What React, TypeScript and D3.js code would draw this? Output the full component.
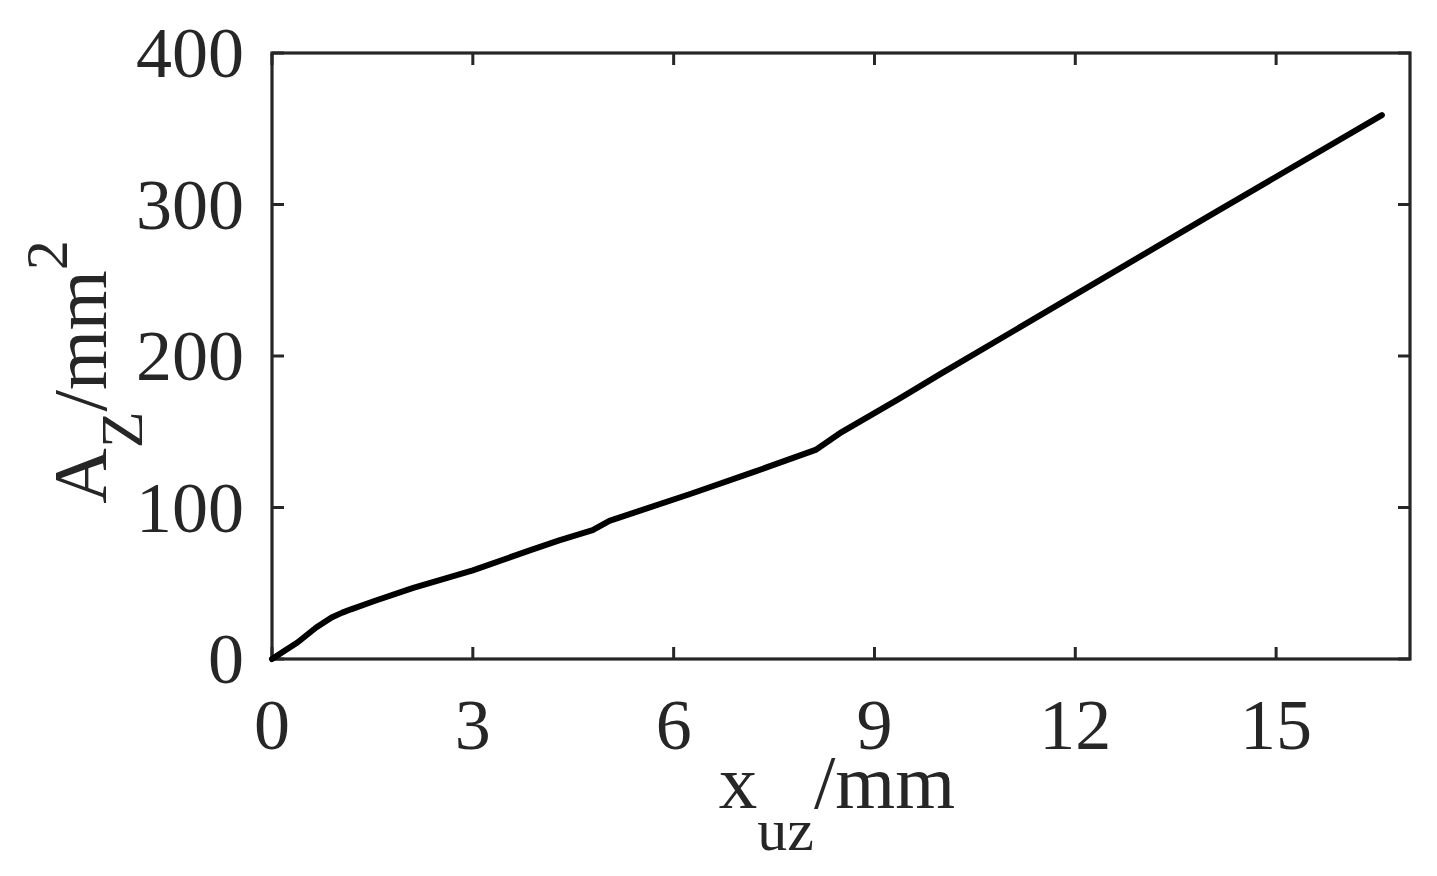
import React, { useEffect, useRef } from "react";
import * as d3 from "d3";

// displacement x_uz (mm) and area A_Z (mm^2)
const xuz = [0, 0.2, 0.38, 0.66, 0.89, 1.05, 1.18, 1.53, 2.11, 3.0, 3.84, 4.29, 4.79, 5.04, 6.28, 7.2, 8.12, 8.51, 9.36, 10.0, 12.0, 14.0, 16.58];
const area = [0, 5.8, 10.9, 20.8, 27.4, 30.6, 32.8, 38.3, 47.0, 58.5, 71.5, 78.3, 85.1, 91.2, 109.4, 123.5, 138.0, 149.8, 171.5, 188.5, 240.5, 292.5, 359];

const xTicks = [0, 3, 6, 9, 12, 15];
const yTicks = [0, 100, 200, 300, 400];

const App = () => {
  const chartRef = useRef<SVGSVGElement | null>(null);

  useEffect(() => {
    const svg = d3.select(chartRef.current);
    svg.selectAll("*").remove();

    const width = 1437;
    const height = 876;
    const margin = { top: 53, right: 27, bottom: 217, left: 272 };
    const ink = "#262626";
    const font = "'Liberation Serif', 'Times New Roman', serif";
    const tickLen = 12;

    svg.attr("width", width).attr("height", height);

    const x = d3
      .scaleLinear()
      .domain([0, 17])
      .range([margin.left, width - margin.right]);

    const y = d3
      .scaleLinear()
      .domain([0, 400])
      .range([height - margin.bottom, margin.top]);

    const g = svg.append("g");

    // ticks on all four sides, pointing inward
    xTicks.forEach((t) => {
      g.append("line")
        .attr("x1", x(t)).attr("x2", x(t))
        .attr("y1", y(0)).attr("y2", y(0) - tickLen)
        .attr("stroke", ink).attr("stroke-width", 3);
      g.append("line")
        .attr("x1", x(t)).attr("x2", x(t))
        .attr("y1", y(400)).attr("y2", y(400) + tickLen)
        .attr("stroke", ink).attr("stroke-width", 3);
      g.append("text")
        .attr("x", x(t))
        .attr("y", y(0) + 90)
        .attr("text-anchor", "middle")
        .attr("fill", ink)
        .style("font-family", font)
        .style("font-size", "72px")
        .text(t);
    });

    yTicks.forEach((t) => {
      g.append("line")
        .attr("x1", x(0)).attr("x2", x(0) + tickLen)
        .attr("y1", y(t)).attr("y2", y(t))
        .attr("stroke", ink).attr("stroke-width", 3);
      g.append("line")
        .attr("x1", x(17)).attr("x2", x(17) - tickLen)
        .attr("y1", y(t)).attr("y2", y(t))
        .attr("stroke", ink).attr("stroke-width", 3);
      g.append("text")
        .attr("x", x(0) - 28)
        .attr("y", y(t))
        .attr("dy", "0.34em")
        .attr("text-anchor", "end")
        .attr("fill", ink)
        .style("font-family", font)
        .style("font-size", "72px")
        .text(t);
    });

    // box
    g.append("rect")
      .attr("x", x(0))
      .attr("y", y(400))
      .attr("width", x(17) - x(0))
      .attr("height", y(0) - y(400))
      .attr("fill", "none")
      .attr("stroke", ink)
      .attr("stroke-width", 3.2);

    // the curve
    const line = d3
      .line<number>()
      .x((d, i) => x(xuz[i]))
      .y((d) => y(d));

    g.append("path")
      .datum(area)
      .attr("d", line)
      .attr("fill", "none")
      .attr("stroke", "#000")
      .attr("stroke-width", 6)
      .attr("stroke-linejoin", "round")
      .attr("stroke-linecap", "round");

    // x label: x_uz/mm
    const xl = g
      .append("text")
      .attr("x", 837)
      .attr("y", 808)
      .attr("text-anchor", "middle")
      .attr("fill", ink)
      .style("font-family", font)
      .style("font-size", "77px");
    xl.append("tspan").text("x");
    xl.append("tspan").attr("dy", 42).style("font-size", "60px").text("uz");
    xl.append("tspan").attr("dy", -42).text("/mm");

    // y label: A_Z/mm^2
    const yl = g
      .append("text")
      .attr("transform", `translate(106, 372) rotate(-90)`)
      .attr("text-anchor", "middle")
      .attr("fill", ink)
      .style("font-family", font)
      .style("font-size", "77px");
    yl.append("tspan").text("A");
    yl.append("tspan").attr("dy", 36).style("font-size", "60px").text("Z");
    yl.append("tspan").attr("dy", -36).text("/mm");
    yl.append("tspan").attr("dy", -39).style("font-size", "60px").text("2");
  }, []);

  return (
    <svg
      ref={chartRef}
      style={{ position: "absolute", left: 0, top: 0, background: "#fff" }}
    ></svg>
  );
};

export default App;
